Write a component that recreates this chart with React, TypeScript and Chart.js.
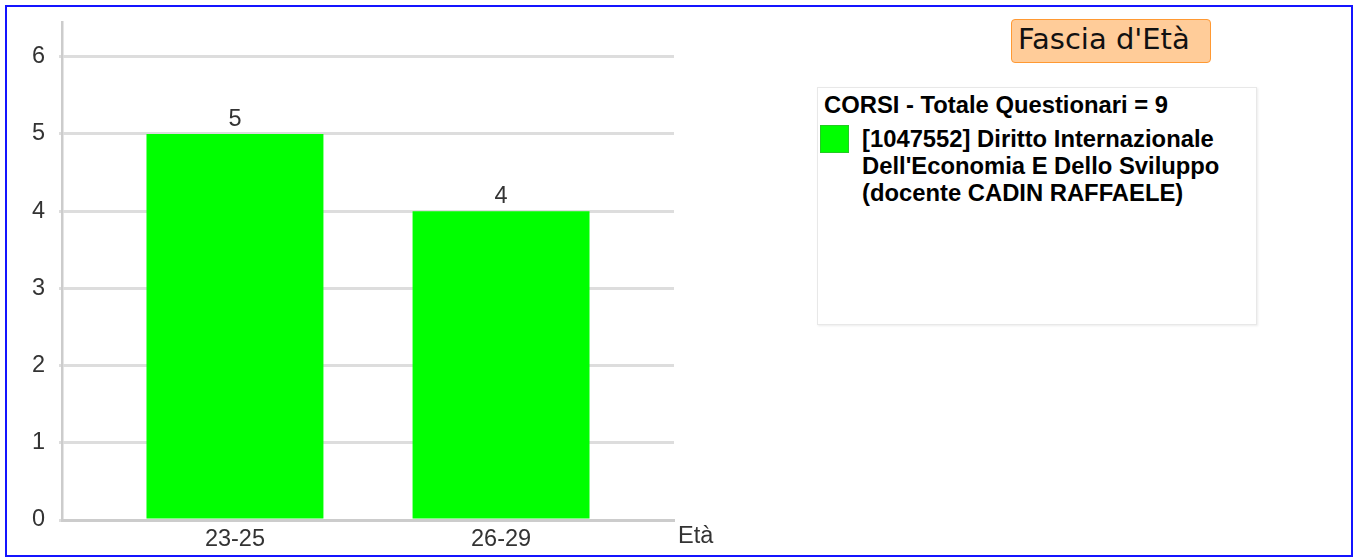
import React, { useEffect, useRef } from 'react';
import { Chart, registerables } from 'chart.js';

Chart.register(...registerables);

const chartTitle = "Fascia d'Età";
const legendTitle = 'CORSI - Totale Questionari = 9';
const seriesLabel =
  "[1047552] Diritto Internazionale Dell'Economia E Dello Sviluppo (docente CADIN RAFFAELE)";
const categories = ['23-25', '26-29'];
const counts = [5, 4];
const yTicks = [0, 1, 2, 3, 4, 5, 6];
const xAxisTitle = 'Età';

const BAR_COLOR = '#00ff00';
const TEXT_GREY = '#333333';
const AXIS_FONT = { family: 'Arial, "Liberation Sans", sans-serif', size: 23.5 };

const labelsPlugin = {
  id: 'valueLabels',
  afterDatasetsDraw(chart: any) {
    const ctx = chart.ctx;
    const meta = chart.getDatasetMeta(0);
    ctx.save();
    ctx.font = `${AXIS_FONT.size}px ${AXIS_FONT.family}`;
    ctx.fillStyle = TEXT_GREY;
    ctx.textAlign = 'center';
    ctx.textBaseline = 'alphabetic';
    meta.data.forEach((bar: any, i: number) => {
      ctx.fillText(String(counts[i]), bar.x, bar.y - 8);
    });
    // axis title at the right end of the x axis
    ctx.textAlign = 'left';
    ctx.fillText(xAxisTitle, chart.chartArea.right + 4, 543);
    ctx.restore();
  },
};

export default function App() {
  const canvasRef = useRef<HTMLCanvasElement | null>(null);

  useEffect(() => {
    const canvas = canvasRef.current;
    if (!canvas) return;
    const chart = new Chart(canvas, {
      type: 'bar',
      data: {
        datasets: [
          {
            label: seriesLabel,
            data: counts.map((v, i) => ({ x: i, y: v })),
            backgroundColor: BAR_COLOR,
            borderWidth: 0,
            barPercentage: 0.665,
            categoryPercentage: 1,
          },
        ],
      },
      options: {
        animation: false,
        responsive: false,
        devicePixelRatio: 1,
        layout: { padding: { left: 0, top: 22, right: 86, bottom: 0 } },
        plugins: {
          legend: { display: false },
          tooltip: { enabled: false },
          title: { display: false },
        },
        scales: {
          x: {
            type: 'linear',
            min: -0.65,
            max: 1.65,
            offset: false,
            grid: { display: false, offset: false },
            border: { display: true, color: '#cccccc', width: 3 },
            ticks: {
              font: AXIS_FONT,
              color: TEXT_GREY,
              padding: -3,
              autoSkip: false,
              maxRotation: 0,
              callback: (v: any) => categories[v as number] ?? '',
            },
            afterBuildTicks: (s: any) => {
              s.ticks = categories.map((_, i) => ({ value: i }));
            },
            afterFit: (s: any) => {
              s.height = 37;
              s.paddingLeft = 0;
              s.paddingRight = 0;
            },
          },
          y: {
            min: 0,
            max: 6.45,
            grid: { color: '#dddddd', lineWidth: 3, tickLength: 3, drawTicks: true },
            border: { display: true, color: '#cccccc', width: 2.5 },
            ticks: { font: AXIS_FONT, color: TEXT_GREY, padding: 14 },
            afterBuildTicks: (s: any) => {
              s.ticks = yTicks.map((v) => ({ value: v }));
            },
            afterFit: (s: any) => {
              s.width = 62;
              s.paddingTop = 0;
              s.paddingBottom = 0;
            },
          },
        },
      } as any,
      plugins: [labelsPlugin],
    });
    return () => chart.destroy();
  }, []);

  const legendFont = 'bold 23.8px Arial, "Liberation Sans", sans-serif';

  return (
    <div
      style={{
        position: 'absolute',
        left: 0,
        top: 0,
        width: 1354,
        height: 557,
        overflow: 'hidden',
        background: '#ffffff',
      }}
    >
      <div
        style={{
          position: 'absolute',
          left: 5,
          top: 5,
          width: 1348,
          height: 552,
          boxSizing: 'border-box',
          border: '2px solid #1414ff',
        }}
      />
      <canvas
        ref={canvasRef}
        width={760}
        height={557}
        style={{ position: 'absolute', left: 0, top: 0, width: 760, height: 557, display: 'block' }}
      />
      <div
        style={{
          position: 'absolute',
          left: 1011,
          top: 19,
          width: 200,
          height: 44,
          boxSizing: 'border-box',
          background: '#ffcc99',
          border: '1px solid #ff9933',
          borderRadius: 4,
        }}
      >
        <span
          style={{
            position: 'absolute',
            left: 6,
            top: 2,
            font: '29px "DejaVu Sans", Verdana, sans-serif',
            lineHeight: 'normal',
            color: '#111111',
            whiteSpace: 'nowrap',
          }}
        >
          {chartTitle}
        </span>
      </div>
      <div
        style={{
          position: 'absolute',
          left: 817,
          top: 87,
          width: 440,
          height: 238,
          boxSizing: 'border-box',
          border: '1px solid #e8e8e8',
          boxShadow: '1px 1px 2px rgba(0,0,0,0.08)',
          background: '#ffffff',
        }}
      />
      <div
        style={{
          position: 'absolute',
          left: 824,
          top: 91,
          font: legendFont,
          lineHeight: '27px',
          color: '#000000',
          whiteSpace: 'nowrap',
        }}
      >
        {legendTitle}
      </div>
      <div
        style={{
          position: 'absolute',
          left: 820,
          top: 125,
          width: 29,
          height: 28,
          boxSizing: 'border-box',
          background: BAR_COLOR,
          border: '1px solid #22cc22',
        }}
      />
      <div
        style={{
          position: 'absolute',
          left: 862,
          top: 125,
          width: 385,
          font: legendFont,
          lineHeight: '27px',
          color: '#000000',
        }}
      >
        {seriesLabel}
      </div>
    </div>
  );
}
